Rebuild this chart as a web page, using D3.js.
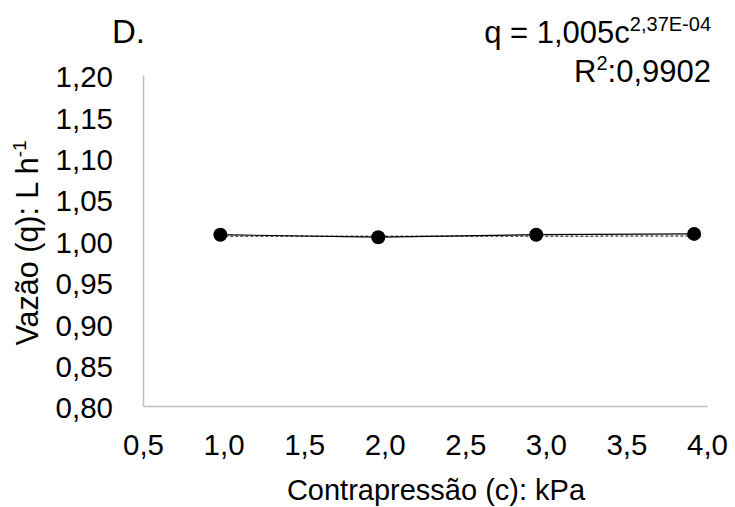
<!DOCTYPE html>
<html>
<head>
<meta charset="utf-8">
<script src="https://cdn.jsdelivr.net/npm/d3@7"></script>
<style>
  html, body { margin: 0; padding: 0; background: #fff; }
  svg { display: block; font-family: "Liberation Sans", Arial, sans-serif; }
</style>
</head>
<body>
<svg id="chart" width="735" height="507"></svg>
<script>
// ---------- data ----------
const pressure = [0.98, 1.96, 2.94, 3.92];        // kPa
const flow = [1.007, 1.004, 1.007, 1.008];         // L h-1
const xTicks = [0.5, 1.0, 1.5, 2.0, 2.5, 3.0, 3.5, 4.0];
const yTicks = [0.80, 0.85, 0.90, 0.95, 1.00, 1.05, 1.10, 1.15, 1.20];
const fitA = 1.005, fitB = 2.37e-4;

const svg = d3.select("#chart");
const margin = { top: 75, right: 28, bottom: 101, left: 143 };
const W = 735, H = 507;

const x = d3.scaleLinear().domain([0.5, 4.0]).range([margin.left, W - margin.right]);
const y = d3.scaleLinear().domain([0.8, 1.2]).range([H - margin.bottom, margin.top]);

const comma = (d, n) => d3.format(`.${n}f`)(d).replace(".", ",");
const axisColor = "#bfbfbf";

// ---------- axes ----------
const gx = svg.append("g")
  .attr("transform", `translate(0,${y(0.8)})`)
  .call(d3.axisBottom(x).tickValues(xTicks).tickSize(0).tickPadding(28).tickFormat(d => comma(d, 1)));
gx.select(".domain").attr("stroke", axisColor).attr("stroke-width", 1.5);
gx.selectAll("text").attr("font-size", 29.5).attr("fill", "#000").attr("font-family", null);

const gy = svg.append("g")
  .attr("transform", `translate(${x(0.5)},0)`)
  .call(d3.axisLeft(y).tickValues(yTicks).tickSize(0).tickPadding(30).tickFormat(d => comma(d, 2)));
gy.select(".domain").attr("stroke", axisColor).attr("stroke-width", 1.5);
gy.selectAll("text").attr("font-size", 29.5).attr("dy", "0.4em").attr("fill", "#000").attr("font-family", null);

// ---------- trend line (power fit) ----------
const fitX = d3.range(pressure[0], pressure[pressure.length - 1] + 1e-9, 0.02);
svg.append("path")
  .datum(fitX)
  .attr("fill", "none")
  .attr("stroke", "#555")
  .attr("stroke-width", 1.5)
  .attr("stroke-dasharray", "3,2")
  .attr("d", d3.line().x(d => x(d)).y(d => y(fitA * Math.pow(d, fitB))));

// ---------- data line + markers ----------
const pts = pressure.map((p, i) => ({ p, q: flow[i] }));
svg.append("path")
  .datum(pts)
  .attr("fill", "none")
  .attr("stroke", "#000")
  .attr("stroke-width", 1.2)
  .attr("d", d3.line().x(d => x(d.p)).y(d => y(d.q)));

svg.selectAll("circle.pt")
  .data(pts)
  .enter().append("circle")
  .attr("class", "pt")
  .attr("cx", d => x(d.p))
  .attr("cy", d => y(d.q))
  .attr("r", 7)
  .attr("fill", "#000");

// ---------- titles ----------
svg.append("text")
  .attr("x", 436).attr("y", 500)
  .attr("text-anchor", "middle")
  .attr("font-size", 29)
  .text("Contrapressão (c): kPa");

const yt = svg.append("text")
  .attr("transform", "translate(38,243) rotate(-90)")
  .attr("text-anchor", "middle")
  .attr("font-size", 30.5);
yt.append("tspan").text("Vazão (q): L h");
yt.append("tspan").attr("font-size", 19).attr("dy", -12).text("-1");

svg.append("text")
  .attr("x", 112).attr("y", 43)
  .attr("font-size", 33)
  .text("D.");

// ---------- equation ----------
const eq = svg.append("text")
  .attr("x", 711).attr("y", 43)
  .attr("text-anchor", "end")
  .attr("font-size", 31);
eq.append("tspan").text("q = 1,005c");
eq.append("tspan").attr("font-size", 20).attr("dy", -12).text("2,37E-04");

const r2 = svg.append("text")
  .attr("x", 711).attr("y", 82)
  .attr("text-anchor", "end")
  .attr("font-size", 31);
r2.append("tspan").text("R");
r2.append("tspan").attr("font-size", 20).attr("dy", -12).text("2");
r2.append("tspan").attr("dy", 12).text(":0,9902");
</script>
</body>
</html>
